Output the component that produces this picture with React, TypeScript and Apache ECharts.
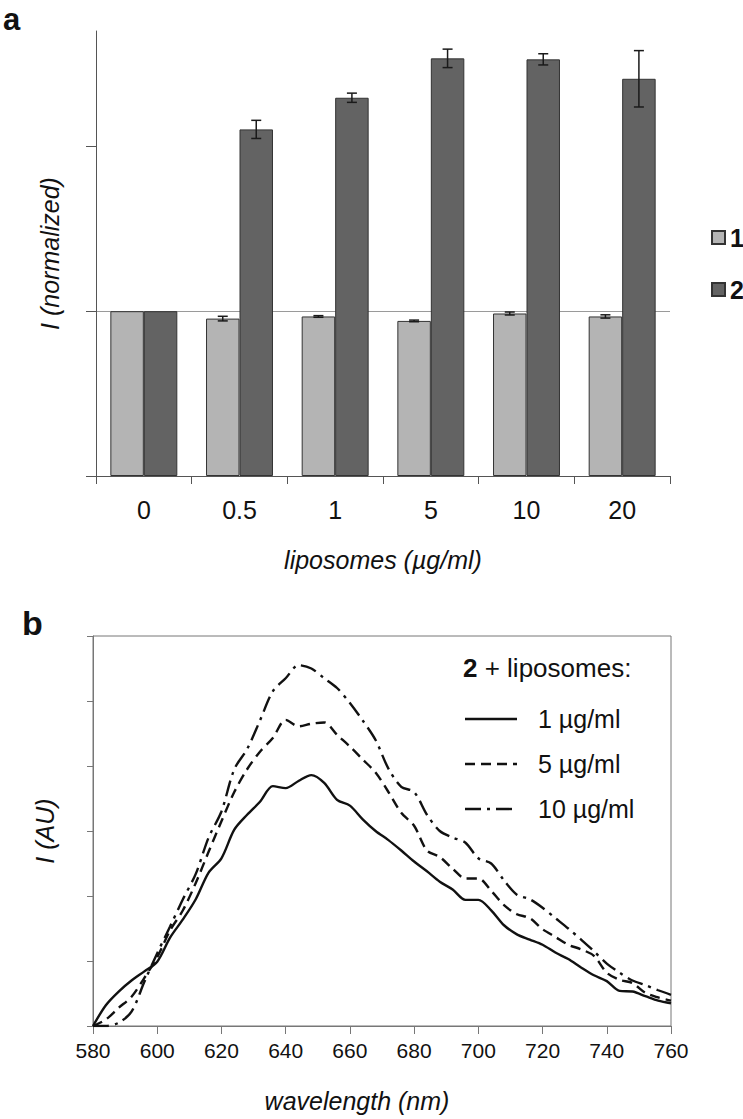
import React, { useEffect, useRef } from 'react';
import * as echarts from 'echarts';

// ---- Panel a data ----
const categories = ['0', '0.5', '1', '5', '10', '20'];
const series1 = [1.0, 0.955, 0.968, 0.941, 0.986, 0.968];
const series1Err = [0, 0.014, 0.005, 0.005, 0.009, 0.01];
const series2 = [1.0, 2.103, 2.295, 2.534, 2.528, 2.41];
const series2Err = [0, 0.055, 0.028, 0.056, 0.034, 0.171];
const barNames = ['1', '2'];

// ---- Panel b data ----
const wavelengths = [
  580, 584, 588, 592, 596, 600, 604, 608, 612, 616, 620, 624, 628, 632, 636, 640,
  644, 648, 652, 656, 660, 664, 668, 672, 676, 680, 684, 688, 692, 696, 700, 704,
  708, 712, 716, 720, 724, 728, 732, 736, 740, 744, 748, 752, 756, 760,
];
const lipo1 = [
  0, 0.32, 0.53, 0.7, 0.84, 0.99, 1.36, 1.64, 1.95, 2.36, 2.58, 3.02, 3.25, 3.45, 3.69, 3.66,
  3.77, 3.86, 3.74, 3.48, 3.39, 3.18, 3.0, 2.86, 2.7, 2.53, 2.38, 2.22, 2.1, 1.94, 1.94, 1.78,
  1.55, 1.41, 1.33, 1.25, 1.13, 1.03, 0.9, 0.78, 0.69, 0.54, 0.53, 0.46, 0.39, 0.35,
];
const lipo5 = [
  0, 0.1, 0.28, 0.45, 0.74, 1.06, 1.47, 1.78, 2.2, 2.68, 3.15, 3.6, 3.95, 4.22, 4.43, 4.71,
  4.61, 4.65, 4.67, 4.48, 4.3, 4.1, 3.9, 3.6, 3.28, 3.08, 2.7, 2.6, 2.42, 2.27, 2.27, 2.08,
  1.86, 1.72, 1.66, 1.49, 1.37, 1.25, 1.18, 1.08, 0.82, 0.71, 0.66, 0.51, 0.44, 0.39,
];
const lipo10 = [
  0, 0, 0.05, 0.22, 0.68, 1.12, 1.53, 1.95, 2.34, 2.9, 3.3, 3.95, 4.26, 4.7, 5.15, 5.35,
  5.55, 5.5, 5.35, 5.2, 4.97, 4.7, 4.4, 3.96, 3.68, 3.6, 3.25, 3.0, 2.9, 2.82, 2.58, 2.5,
  2.24, 2.02, 1.95, 1.82, 1.66, 1.5, 1.33, 1.15, 0.96, 0.82, 0.7, 0.63, 0.55, 0.48,
];
const lineNames = ['1 µg/ml', '5 µg/ml', '10 µg/ml'];
const lineDashes: any[] = [null, [10, 6], [16, 6, 3, 6]];

const FONT = 'Liberation Sans, Arial, sans-serif';
const TXT = '#111';
const LINE_W = 2.4;

export default function App() {
  const ref = useRef<HTMLDivElement>(null);

  useEffect(() => {
    document.body.style.margin = '0';
    if (!ref.current) return;
    const chart = echarts.init(ref.current, null, { renderer: 'svg' });

    const errData: any[] = [];
    categories.forEach((_, i) => {
      errData.push([i, series1[i], series1Err[i], 0]);
      errData.push([i, series2[i], series2Err[i], 1]);
    });

    const pair = (arr: number[]) => wavelengths.map((w, i) => [w, arr[i]]);

    // hand-drawn legend for panel b (line samples + labels)
    const legendB: any[] = [];
    lineNames.forEach((name, i) => {
      const y = 719 + i * 45;
      const style: any = { stroke: '#111', lineWidth: LINE_W };
      if (lineDashes[i]) style.lineDash = lineDashes[i];
      legendB.push({ type: 'line', shape: { x1: 465, y1: y, x2: 517, y2: y }, style });
      legendB.push({
        type: 'text',
        x: 538,
        y,
        style: { text: name, fontFamily: FONT, fontSize: 25, fill: TXT, verticalAlign: 'middle', align: 'left' },
      });
    });

    const lineSeries = [lipo1, lipo5, lipo10].map((arr, i) => ({
      name: lineNames[i],
      type: 'line',
      xAxisIndex: 1,
      yAxisIndex: 1,
      data: pair(arr),
      smooth: 0.3,
      symbol: 'none',
      itemStyle: { color: '#111' },
      lineStyle: { color: '#111', width: LINE_W, type: lineDashes[i] || 'solid' },
    }));

    const option: any = {
      animation: false,
      backgroundColor: '#fff',
      textStyle: { fontFamily: FONT, color: TXT },
      grid: [
        { left: 96, top: 31, width: 574, height: 445 },
        {
          left: 93, top: 636, width: 578, height: 390,
          show: true, borderColor: '#777', borderWidth: 1, backgroundColor: 'transparent',
        },
      ],
      legend: [
        {
          data: barNames,
          orient: 'vertical',
          left: 706,
          top: 220,
          itemWidth: 13,
          itemHeight: 13,
          itemGap: 27,
          icon: 'rect',
          textStyle: { fontFamily: FONT, fontSize: 25, fontWeight: 'bold', color: TXT },
        },
      ],
      xAxis: [
        {
          type: 'category',
          gridIndex: 0,
          data: categories,
          boundaryGap: true,
          axisLine: { lineStyle: { color: '#555', width: 1 } },
          axisTick: { show: true, length: 8, alignWithLabel: false, lineStyle: { color: '#555' } },
          axisLabel: { fontSize: 25, color: TXT, margin: 21, fontFamily: FONT },
          name: 'liposomes (µg/ml)',
          nameLocation: 'middle',
          nameGap: 71,
          nameTextStyle: { fontSize: 25, fontStyle: 'italic', color: TXT, fontFamily: FONT },
        },
        {
          type: 'value',
          gridIndex: 1,
          min: 580,
          max: 760,
          interval: 20,
          axisLine: { show: true, lineStyle: { color: '#777', width: 1 } },
          axisTick: { show: true, length: 8, lineStyle: { color: '#777' } },
          axisLabel: { fontSize: 21, color: TXT, margin: 14, fontFamily: FONT },
          splitLine: { show: false },
          name: 'wavelength (nm)',
          nameLocation: 'middle',
          nameGap: 62,
          nameTextStyle: {
            fontSize: 25, fontStyle: 'italic', color: TXT, fontFamily: FONT, padding: [0, 50, 0, 0],
          },
        },
      ],
      yAxis: [
        {
          type: 'value',
          gridIndex: 0,
          min: 0,
          max: 2.7,
          interval: 1,
          axisLine: { show: true, lineStyle: { color: '#555', width: 1 } },
          axisTick: { show: true, length: 10, customValues: [0, 1, 2], lineStyle: { color: '#555' } },
          axisLabel: { show: false },
          splitLine: { show: true, showMinLine: false, showMaxLine: false, lineStyle: { color: '#9a9a9a', width: 1 } },
          name: 'I (normalized)',
          nameLocation: 'middle',
          nameGap: 34,
          nameTextStyle: { fontSize: 25, fontStyle: 'italic', color: TXT, fontFamily: FONT },
        },
        {
          type: 'value',
          gridIndex: 1,
          min: 0,
          max: 6,
          interval: 1,
          axisLine: { show: true, lineStyle: { color: '#777', width: 1 } },
          axisTick: { show: true, length: 6, lineStyle: { color: '#777' } },
          axisLabel: { show: false },
          splitLine: { show: false },
          name: 'I (AU)',
          nameLocation: 'middle',
          nameGap: 36,
          nameTextStyle: { fontSize: 25, fontStyle: 'italic', color: TXT, fontFamily: FONT },
        },
      ],
      series: [
        {
          name: barNames[0],
          type: 'bar',
          xAxisIndex: 0,
          yAxisIndex: 0,
          data: series1,
          barGap: '0%',
          barCategoryGap: '30%',
          itemStyle: { color: '#b4b4b4', borderColor: '#333', borderWidth: 1 },
        },
        {
          name: barNames[1],
          type: 'bar',
          xAxisIndex: 0,
          yAxisIndex: 0,
          data: series2,
          barGap: '0%',
          barCategoryGap: '30%',
          itemStyle: { color: '#636363', borderColor: '#333', borderWidth: 1 },
        },
        {
          type: 'custom',
          xAxisIndex: 0,
          yAxisIndex: 0,
          data: errData,
          encode: { x: 0, y: 1 },
          z: 10,
          silent: true,
          renderItem: (params: any, api: any) => {
            const cat = api.value(0);
            const val = api.value(1);
            const err = api.value(2);
            const s = api.value(3);
            if (!err) return null;
            const center = api.coord([cat, val]);
            const catW = api.size([1, 0])[0];
            const barW = (catW * 0.7) / 2;
            const x = center[0] + (s === 0 ? -barW / 2 : barW / 2);
            const top = api.coord([cat, val + err])[1];
            const bot = api.coord([cat, val - err])[1];
            const cap = 5;
            const st = { stroke: '#1a1a1a', lineWidth: 1.5 };
            return {
              type: 'group',
              children: [
                { type: 'line', shape: { x1: x, y1: top, x2: x, y2: bot }, style: st },
                { type: 'line', shape: { x1: x - cap, y1: top, x2: x + cap, y2: top }, style: st },
                { type: 'line', shape: { x1: x - cap, y1: bot, x2: x + cap, y2: bot }, style: st },
              ],
            };
          },
        },
        ...lineSeries,
      ],
      graphic: [
        {
          type: 'text',
          x: 3,
          y: 4,
          style: { text: 'a', fontFamily: FONT, fontSize: 31, fontWeight: 'bold', fill: TXT, verticalAlign: 'top' },
        },
        {
          type: 'text',
          left: 22,
          top: 606,
          style: { text: 'b', fontFamily: FONT, fontSize: 34, fontWeight: 'bold', fill: TXT },
        },
        {
          type: 'text',
          left: 463,
          top: 655,
          style: {
            text: '{b|2} + liposomes:',
            fontFamily: FONT,
            fontSize: 26,
            fill: TXT,
            rich: { b: { fontFamily: FONT, fontSize: 26, fontWeight: 'bold', fill: TXT } },
          },
        },
        ...legendB,
      ],
    };

    chart.setOption(option);
    return () => chart.dispose();
  }, []);

  return <div ref={ref} style={{ width: 743, height: 1119 }} />;
}
